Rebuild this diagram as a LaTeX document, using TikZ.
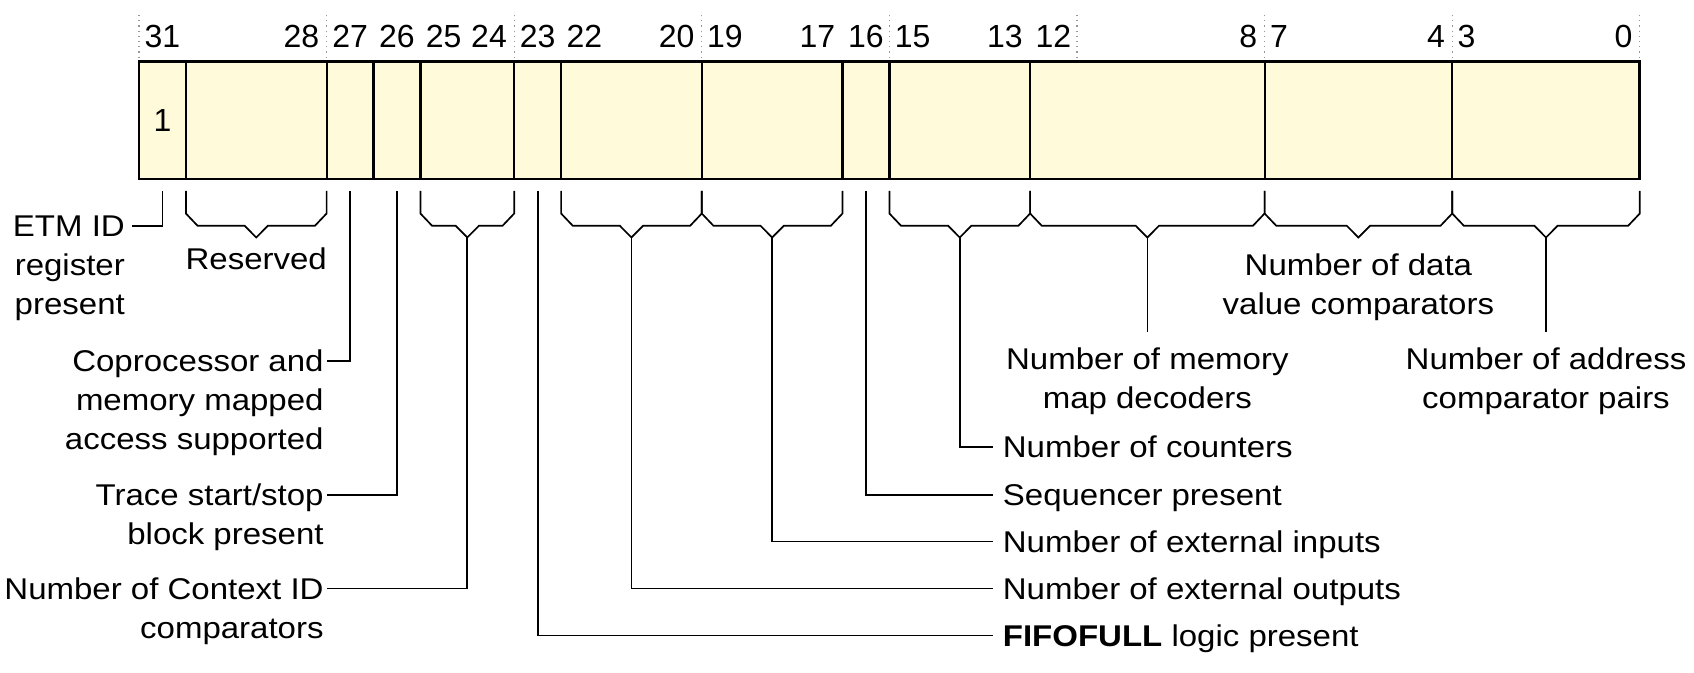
\documentclass[tikz,border=0pt]{standalone}
\usepackage{fontspec}
\setmainfont{Liberation Sans}[FakeStretch=1.1]
\newfontfamily\numfont{Liberation Sans}
\usetikzlibrary{calc}
\definecolor{regfill}{RGB}{255,251,218}
\definecolor{tickgrey}{RGB}{150,150,150}
\newcommand\fld[4]{\node[field, minimum width=#3*23.45pt, anchor=north west] (#1) at ({139+46.9*#2},61.7) {#4};}
\newcommand\fbrace[1]{%
  \coordinate (#1-l) at ($(#1.south west)+(0,12)$);
  \coordinate (#1-r) at ($(#1.south east)+(0,12)$);
  \coordinate (#1-v) at ($(#1-l)!.5!(#1-r)+(0,46.5)$);
  \draw[lead] (#1-l) -- ++(0,22.5) -- ++(11.6,12.2) -- ($(#1-v)+(-11.7,-11.8)$) -- (#1-v) -- ++(11.7,-11.8) -- ($(#1-r)+(-11.6,34.7)$) -- ($(#1-r)+(0,22.5)$) -- (#1-r);}
\begin{document}
\begin{tikzpicture}[x=0.5pt,y=-0.5pt,
  font=\fontsize{15pt}{19.5pt}\selectfont,
  field/.style={draw, fill=regfill, line width=1.1pt, inner sep=0pt, outer sep=0pt,
    minimum height=58.65pt, font=\numfont\fontsize{16pt}{19pt}\selectfont},
  bitn/.style={inner sep=0pt, font=\numfont\fontsize{16pt}{19pt}\selectfont},
  lbl/.style={inner sep=0pt},
  lead/.style={line width=0.85pt},
  tick/.style={tickgrey, dotted, line width=0.6pt}]
\useasboundingbox (0,0) rectangle (1694,673);
% nibble ticks
\foreach \k in {0,4,...,32} \draw[tick] ({139+46.9*\k},15) -- ({139+46.9*\k},61.7);
% fields
\fld{f31}{0}{1}{1}
\fld{f30}{1}{3}{}
\fld{f27}{4}{1}{}
\fld{f26}{5}{1}{}
\fld{f25}{6}{2}{}
\fld{f23}{8}{1}{}
\fld{f22}{9}{3}{}
\fld{f19}{12}{3}{}
\fld{f16}{15}{1}{}
\fld{f15}{16}{3}{}
\fld{f12}{19}{5}{}
\fld{f7}{24}{4}{}
\fld{f3}{28}{4}{}
\draw[line width=1.35pt] (f31.north west) rectangle (f3.south east);
% bit numbers
\node[bitn, anchor=base] (n31) at ($(f31.north)+(0,-14)$) {31};
\node[bitn, anchor=base east] (n28) at ($(f30.north east)+(-7,-14)$) {28};
\node[bitn, anchor=base] (n27) at ($(f27.north)+(0,-14)$) {27};
\node[bitn, anchor=base] (n26) at ($(f26.north)+(0,-14)$) {26};
\node[bitn, anchor=base west] (n25) at ($(f25.north west)+(5,-14)$) {25};
\node[bitn, anchor=base east] (n24) at ($(f25.north east)+(-7,-14)$) {24};
\node[bitn, anchor=base] (n23) at ($(f23.north)+(0,-14)$) {23};
\node[bitn, anchor=base west] (n22) at ($(f22.north west)+(5,-14)$) {22};
\node[bitn, anchor=base east] (n20) at ($(f22.north east)+(-7,-14)$) {20};
\node[bitn, anchor=base west] (n19) at ($(f19.north west)+(5,-14)$) {19};
\node[bitn, anchor=base east] (n17) at ($(f19.north east)+(-7,-14)$) {17};
\node[bitn, anchor=base] (n16) at ($(f16.north)+(0,-14)$) {16};
\node[bitn, anchor=base west] (n15) at ($(f15.north west)+(5,-14)$) {15};
\node[bitn, anchor=base east] (n13) at ($(f15.north east)+(-7,-14)$) {13};
\node[bitn, anchor=base west] (n12) at ($(f12.north west)+(5,-14)$) {12};
\node[bitn, anchor=base east] (n8) at ($(f12.north east)+(-7,-14)$) {8};
\node[bitn, anchor=base west] (n7) at ($(f7.north west)+(5,-14)$) {7};
\node[bitn, anchor=base east] (n4) at ($(f7.north east)+(-7,-14)$) {4};
\node[bitn, anchor=base west] (n3) at ($(f3.north west)+(5,-14)$) {3};
\node[bitn, anchor=base east] (n0) at ($(f3.north east)+(-7,-14)$) {0};
% braces
\fbrace{f30}
\fbrace{f25}
\fbrace{f22}
\fbrace{f19}
\fbrace{f15}
\fbrace{f12}
\fbrace{f7}
\fbrace{f3}
% leader end points
\coordinate (etmE) at (131.7,225.7);
\coordinate (copE) at (326.5,360.7);
\coordinate (trE) at (326.5,495);
\coordinate (ctxE) at (326.5,588.5);
\coordinate (cntE) at (993,447);
\coordinate (seqE) at (993,495);
\coordinate (inE) at (993,541.5);
\coordinate (outE) at (993,588.5);
\coordinate (fifoE) at (993,635.5);
\coordinate (memT) at ($(f12-v)+(0,94.2)$);
\coordinate (addrT) at ($(f3-v)+(0,94.2)$);
% leaders
\draw[lead] ($(f31.south)+(0,12)$) |- (etmE);
\draw[lead] ($(f27.south)+(0,12)$) |- (copE);
\draw[lead] ($(f26.south)+(0,12)$) |- (trE);
\draw[lead] (f25-v) |- (ctxE);
\draw[lead] ($(f23.south)+(0,12)$) |- (fifoE);
\draw[lead] (f22-v) |- (outE);
\draw[lead] (f19-v) |- (inE);
\draw[lead] ($(f16.south)+(0,12)$) |- (seqE);
\draw[lead] (f15-v) |- (cntE);
\draw[lead] (f12-v) -- (memT);
\draw[lead] (f3-v) -- (addrT);
% labels (base anchor of a multi-line node = baseline of its last line)
\node[lbl, align=right, anchor=base east] (etm) at ($(etmE)+(-6.5,88.7)$) {ETM ID\\register\\present};
\node[lbl, anchor=base] (res) at ($(f30-v)+(0,32.5)$) {Reserved};
\node[lbl, align=right, anchor=base east] (cop) at ($(copE)+(-2.5,88.7)$) {Coprocessor and\\memory mapped\\access supported};
\node[lbl, align=right, anchor=base east] (tr) at ($(trE)+(-2.5,49.7)$) {Trace start/stop\\block present};
\node[lbl, align=right, anchor=base east] (ctx) at ($(ctxE)+(-2.5,49.7)$) {Number of Context ID\\comparators};
\node[lbl, anchor=base west] (cnt) at ($(cntE)+(9.5,10.7)$) {Number of counters};
\node[lbl, anchor=base west] (seq) at ($(seqE)+(9.5,10.7)$) {Sequencer present};
\node[lbl, anchor=base west] (in) at ($(inE)+(9.5,10.7)$) {Number of external inputs};
\node[lbl, anchor=base west] (out) at ($(outE)+(9.5,10.7)$) {Number of external outputs};
\node[lbl, anchor=base west] (fifo) at ($(fifoE)+(9.5,10.7)$) {\textbf{FIFOFULL} logic present};
\node[lbl, align=center, anchor=base] (mem) at ($(memT)+(0,76.8)$) {Number of memory\\map decoders};
\node[lbl, align=center, anchor=base] (data) at ($(f7-v)+(0,77.5)$) {Number of data\\value comparators};
\node[lbl, align=center, anchor=base] (addr) at ($(addrT)+(0,76.8)$) {Number of address\\comparator pairs};
\end{tikzpicture}
\end{document}
